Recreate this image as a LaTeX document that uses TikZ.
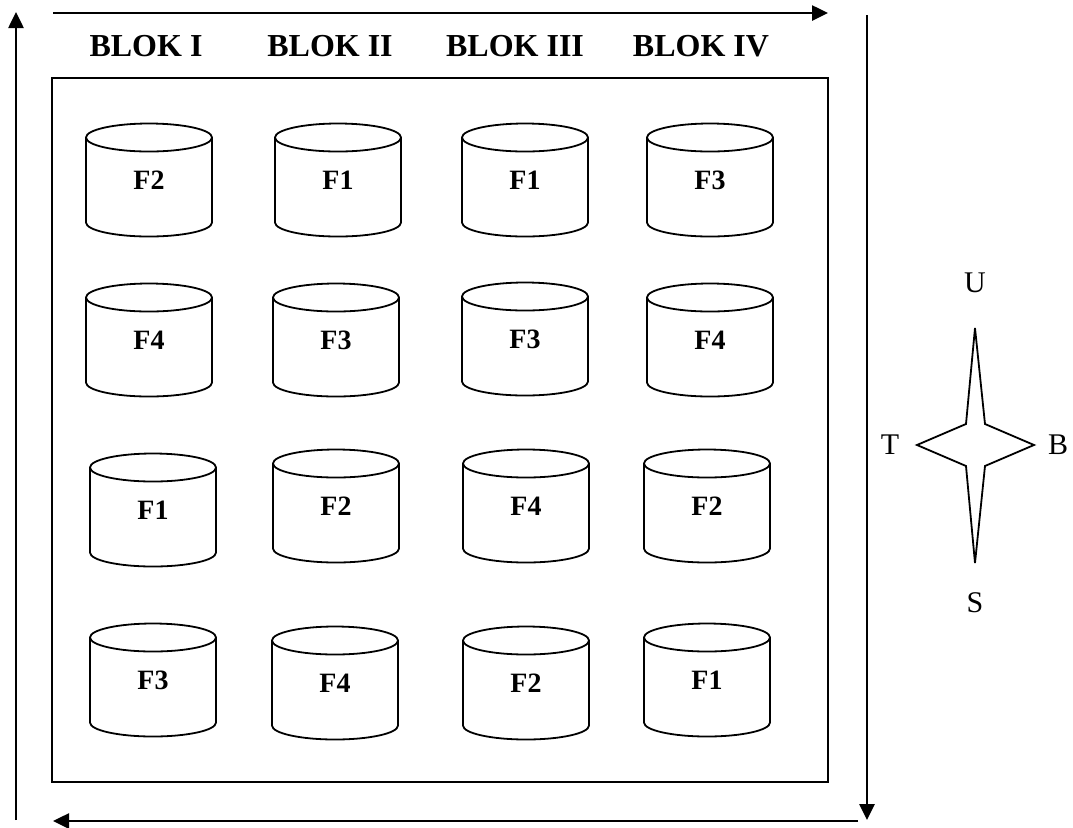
\documentclass[tikz,border=0pt]{standalone}
\usepackage{fontspec}
\setmainfont{Liberation Serif}
\usepackage{tikz}
\usetikzlibrary{arrows.meta}
\usetikzlibrary{calc}

\tikzset{
  panah/.style={line width=1.3pt, -{Triangle[length=8pt, width=7.5pt]}},
  tong/.style={line width=0.9pt},
  blok/.style={font=\fontsize{16}{19}\selectfont\bfseries},
  perlakuan/.style={font=\fontsize{14}{16}\selectfont\bfseries},
  arah/.style={font=\fontsize{15}{18}\selectfont}
}

\begin{document}
\begin{tikzpicture}[x=0.5pt, y=-0.5pt]

      \useasboundingbox (0, 0) rectangle (1073, 827);

      \newcommand\potrx{63}
      \newcommand\potry{14}
      \newcommand\poth{42.5}

      % petak percobaan
      \draw [line width=0.8pt] (52, 78) rectangle (828, 782);

      % arah pengamatan
      \coordinate (atas0) at (53, 13);
      \coordinate (atas1) at (828, 13);
      \coordinate (kanan0) at (867, 15);
      \coordinate (kanan1) at (867, 820);
      \coordinate (bawah0) at (858, 821);
      \coordinate (bawah1) at (53, 821);
      \coordinate (kiri0) at (16, 820);
      \coordinate (kiri1) at (16, 12);
      \draw [panah] (atas0) -- (atas1);
      \draw [panah] (kanan0) -- (kanan1);
      \draw [panah] (bawah0) -- (bawah1);
      \draw [panah] (kiri0) -- (kiri1);

      % judul blok
      \node [blok] (blok1) at (146, 46) {BLOK I};
      \node [blok] (blok2) at (330, 46) {BLOK II};
      \node [blok] (blok3) at (515, 46) {BLOK III};
      \node [blok] (blok4) at (701, 46) {BLOK IV};

      % pot perlakuan
      \foreach \n/\x/\y/\f in {
          a/149/180/F2, b/338/180/F1, c/525/180/F1, d/710/180/F3,
          e/149/340/F4, f/336/340/F3, g/525/339/F3, h/710/340/F4,
          i/153/510/F1, j/336/506/F2, k/526/506/F4, l/707/506/F2,
          m/153/680/F3, n/335/683/F4, o/526/683/F2, p/707/680/F1} {
        \draw [tong] (\x-\potrx, \y-\poth) -- (\x-\potrx, \y+\poth)
          arc [start angle=180, end angle=0, x radius=\potrx, y radius=\potry]
          -- (\x+\potrx, \y-\poth);
        \draw [tong] (\x, \y-\poth) ellipse [x radius=\potrx, y radius=\potry];
        \node [perlakuan] (pot\n) at (\x, \y) {\f};
      }

      % mata angin
      \draw [line width=0.9pt] (975, 328) -- (985, 424) -- (1034, 445) -- (985, 466)
        -- (975, 563) -- (966, 466) -- (917, 445) -- (966, 424) -- cycle;
      \node [arah] (u) at (975, 283) {U};
      \node [arah] (t) at (890, 445) {T};
      \node [arah] (b) at (1058, 445) {B};
      \node [arah] (s) at (975, 603) {S};

    \end{tikzpicture}
\end{document}
